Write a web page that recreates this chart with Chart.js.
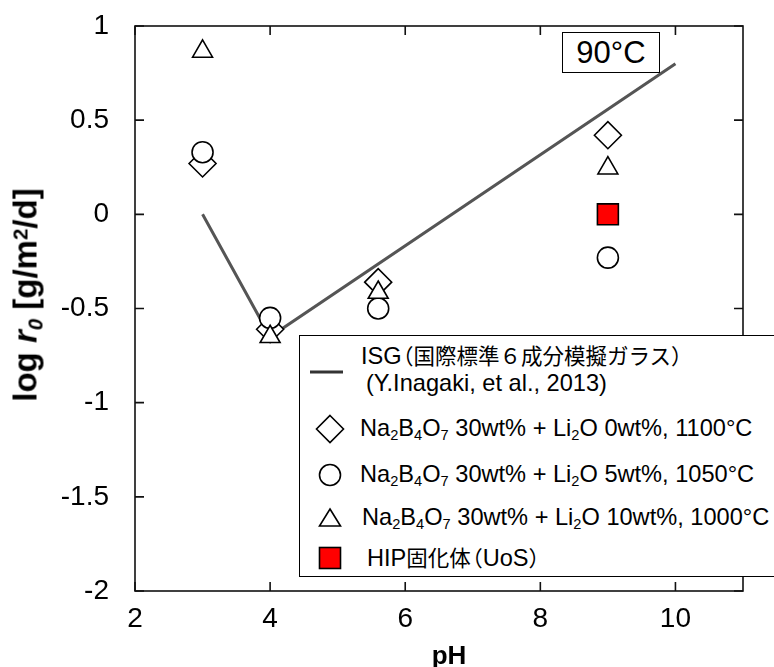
<!DOCTYPE html>
<html>
<head>
<meta charset="utf-8">
<script src="https://cdn.jsdelivr.net/npm/chart.js@4.4.1/dist/chart.umd.min.js"></script>
<style>
  body { margin: 0; background: #fff; }
  #wrap {
    position: relative; width: 774px; height: 667px; overflow: hidden;
    font-family: "Liberation Sans", Arial, "Noto Sans CJK JP", sans-serif; color: #000;
  }
  #chart { position: absolute; left: 0; top: 0; }
  sub, sup { font-size: 0.62em; line-height: 0; position: relative; vertical-align: baseline; }
  sub { top: 0.3em; }
  sup { top: -0.45em; }
  .cj { font-family: "Noto Sans CJK JP", sans-serif; font-size: 21.5px; }
  .lp { margin-left: -0.45em; }
  .ytitle {
    position: absolute; left: 25px; top: 295px; white-space: nowrap;
    transform: translate(-50%, -50%) rotate(-90deg);
    font-weight: bold; font-size: 33px; line-height: 1;
  }
  .xtitle {
    position: absolute; left: 449px; top: 655px; transform: translate(-50%, -50%);
    font-weight: bold; font-size: 26px; line-height: 1;
  }
  .tempbox {
    position: absolute; left: 562px; top: 32px; width: 98px; height: 41px; box-sizing: border-box;
    border: 1.5px solid #000; background: #fff; font-size: 31px; line-height: 39px; text-align: center;
  }
  #legend {
    position: absolute; left: 299px; top: 335px; width: 490px; height: 242px; box-sizing: border-box;
    border: 1.5px solid #000; background: #fff;
  }
  .row { position: absolute; white-space: nowrap; font-size: 23.6px; line-height: 1; transform: translateY(-50%); }
  .mark { position: absolute; transform: translate(-50%, -50%); }
</style>
</head>
<body>
<div id="wrap">
  <canvas id="chart" width="774" height="667"></canvas>
  <div class="ytitle">log <i>r<sub>0</sub></i> [g/m<sup>2</sup>/d]</div>
  <div class="xtitle">pH</div>
  <div class="tempbox">90°C</div>
  <div id="legend"></div>
</div>
<script>
// data
var phValues = [3, 4, 5.6, 9];
var li0Values = [0.27, -0.61, -0.36, 0.42];
var li5Values = [0.33, -0.55, -0.50, -0.23];
var li10Values = [0.865, -0.65, -0.415, 0.245];
var hipPH = [9];
var hipValues = [0.0];
var isgPH = [3, 4, 10];
var isgValues = [0.0, -0.65, 0.8];

var xTicks = [2, 4, 6, 8, 10];
var yTicks = [-2, -1.5, -1, -0.5, 0, 0.5, 1];

var legendLabels = [
  "ISG<span class=\"cj\"><span class=\"lp\">（</span>国際標準６成分模擬ガラス）</span>",
  "(Y.Inagaki, et al., 2013)",
  "Na<sub>2</sub>B<sub>4</sub>O<sub>7</sub> 30wt% + Li<sub>2</sub>O 0wt%, 1100°C",
  "Na<sub>2</sub>B<sub>4</sub>O<sub>7</sub> 30wt% + Li<sub>2</sub>O 5wt%, 1050°C",
  "Na<sub>2</sub>B<sub>4</sub>O<sub>7</sub> 30wt% + Li<sub>2</sub>O 10wt%, 1000°C",
  "HIP<span class=\"cj\">固化体<span class=\"lp\">（</span></span>UoS<span class=\"cj\">）</span>"
];

function toPoints(xs, ys) {
  var pts = [];
  for (var i = 0; i < xs.length; i++) {
    pts.push({ x: xs[i], y: ys[i] });
  }
  return pts;
}

// plot frame + inward ticks on all four sides
var frameTicks = {
  id: "frameTicks",
  afterDatasetsDraw: function (chart) {
    var ctx = chart.ctx;
    var a = chart.chartArea;
    var xs = chart.scales.x;
    var ys = chart.scales.y;
    var len = 9;
    ctx.save();
    ctx.strokeStyle = "#111";
    ctx.lineWidth = 1.6;
    ctx.strokeRect(a.left, a.top, a.right - a.left, a.bottom - a.top);
    ctx.beginPath();
    xTicks.forEach(function (v) {
      var px = xs.getPixelForValue(v);
      ctx.moveTo(px, a.bottom); ctx.lineTo(px, a.bottom - len);
      ctx.moveTo(px, a.top); ctx.lineTo(px, a.top + len);
    });
    yTicks.forEach(function (v) {
      var py = ys.getPixelForValue(v);
      ctx.moveTo(a.left, py); ctx.lineTo(a.left + len, py);
      ctx.moveTo(a.right, py); ctx.lineTo(a.right - len, py);
    });
    ctx.stroke();
    ctx.restore();
  }
};

var ctx = document.getElementById("chart").getContext("2d");
var myChart = new Chart(ctx, {
  type: "scatter",
  data: {
    datasets: [
      {
        label: "ISG",
        type: "line",
        data: toPoints(isgPH, isgValues),
        borderColor: "#555",
        borderWidth: 3,
        pointRadius: 0,
        fill: false,
        order: 5
      },
      {
        label: "Li2O 0wt%",
        data: toPoints(phValues, li0Values),
        pointStyle: "rectRot",
        pointRadius: 13.5,
        backgroundColor: "#fff",
        borderColor: "#000",
        borderWidth: 1.6,
        order: 4
      },
      {
        label: "Li2O 5wt%",
        data: toPoints(phValues, li5Values),
        pointStyle: "circle",
        pointRadius: 10.5,
        backgroundColor: "#fff",
        borderColor: "#000",
        borderWidth: 1.6,
        order: 3
      },
      {
        label: "Li2O 10wt%",
        data: toPoints(phValues, li10Values),
        pointStyle: "triangle",
        pointRadius: 11.5,
        backgroundColor: "#fff",
        borderColor: "#000",
        borderWidth: 1.6,
        order: 2
      },
      {
        label: "HIP",
        data: toPoints(hipPH, hipValues),
        pointStyle: "rect",
        pointRadius: 14.8,
        backgroundColor: "#ff0000",
        borderColor: "#000",
        borderWidth: 1.6,
        order: 1
      }
    ]
  },
  options: {
    responsive: false,
    animation: false,
    events: [],
    layout: { padding: { left: 0, top: 26, right: 31, bottom: 0 } },
    plugins: { legend: { display: false }, tooltip: { enabled: false } },
    scales: {
      x: {
        type: "linear",
        min: 2,
        max: 11,
        grid: { display: false },
        border: { display: false },
        afterBuildTicks: function (scale) {
          scale.ticks = xTicks.map(function (v) { return { value: v }; });
        },
        afterFit: function (scale) { scale.height = 76; },
        ticks: {
          padding: 3,
          color: "#000",
          font: { family: "'Liberation Sans', Arial", size: 28 },
          callback: function (v) { return String(v); }
        }
      },
      y: {
        type: "linear",
        min: -2,
        max: 1,
        grid: { display: false },
        border: { display: false },
        afterBuildTicks: function (scale) {
          scale.ticks = yTicks.map(function (v) { return { value: v }; });
        },
        afterFit: function (scale) { scale.width = 135; },
        ticks: {
          padding: 18,
          color: "#000",
          font: { family: "'Liberation Sans', Arial", size: 28, lineHeight: 0.55 },
          callback: function (v) { return String(v); }
        }
      }
    }
  },
  plugins: [frameTicks]
});

// legend box (HTML so the sub/superscripts stay real text)
var lg = document.getElementById("legend");
var ox = 299, oy = 335;
var sw = 'stroke="#000" stroke-width="1.6" fill="#fff"';
var marks = [
  { x: 326, y: 371, svg: '<svg width="36" height="6"><line x1="1" y1="3" x2="34" y2="3" stroke="#333" stroke-width="3"/></svg>' },
  { x: 329, y: 428, svg: '<svg width="30" height="30"><polygon points="15,1.5 28.5,15 15,28.5 1.5,15" ' + sw + '/></svg>' },
  { x: 329, y: 474, svg: '<svg width="26" height="26"><circle cx="13" cy="13" r="10.5" ' + sw + '/></svg>' },
  { x: 329, y: 517, svg: '<svg width="26" height="22"><polygon points="13,2 23.5,19 2.5,19" ' + sw + '/></svg>' },
  { x: 329, y: 557, svg: '<svg width="26" height="26"><rect x="2.5" y="2.5" width="21" height="21" stroke="#000" stroke-width="1.6" fill="#ff0000"/></svg>' }
];
marks.forEach(function (m) {
  var d = document.createElement("div");
  d.className = "mark";
  d.style.left = (m.x - ox) + "px";
  d.style.top = (m.y - oy) + "px";
  d.style.lineHeight = "0";
  d.innerHTML = m.svg;
  lg.appendChild(d);
});
var rows = [
  { x: 360, y: 355 }, { x: 365, y: 383 }, { x: 359, y: 428 },
  { x: 359, y: 474 }, { x: 361, y: 517 }, { x: 366, y: 557 }
];
rows.forEach(function (r, i) {
  var d = document.createElement("div");
  d.className = "row";
  d.style.left = (r.x - ox) + "px";
  d.style.top = (r.y - oy) + "px";
  d.innerHTML = legendLabels[i];
  lg.appendChild(d);
});
</script>
</body>
</html>
